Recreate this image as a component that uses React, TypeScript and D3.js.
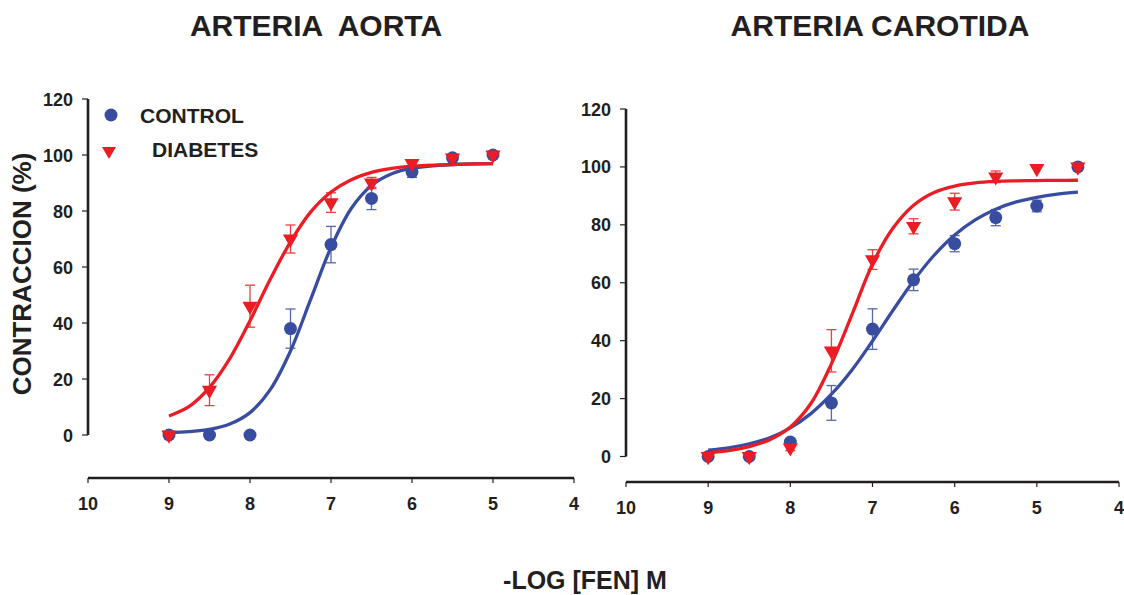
import React from "react";
import * as d3 from "d3";

// ---------- data ----------
const xTicks = [10, 9, 8, 7, 6, 5, 4];
const yTicks = [0, 20, 40, 60, 80, 100, 120];

const aortaConc = [9, 8.5, 8, 7.5, 7, 6.5, 6, 5.5, 5];
const aortaControl = [0, 0, 0, 38, 68, 84.5, 94, 99, 100];
const aortaControlErr = [0, 0, 0, 7, 6.5, 4, 2, 0, 0];
const aortaDiabetes = [0, 16, 46, 70, 83, 90, 97, 99, 100];
const aortaDiabetesErr = [0, 5.5, 7.5, 5, 3.5, 2, 1, 0.8, 0];

const aortaFitX = [9, 8.75, 8.5, 8.25, 8, 7.75, 7.5, 7.25, 7, 6.75, 6.5, 6.25, 6, 5.5, 5];
const aortaControlFit = [0.8, 1.2, 2.0, 3.9, 8, 16.2, 30, 48.5, 67, 80.9, 89.1, 93.3, 95.3, 96.6, 96.9];
const aortaDiabetesFit = [6.8, 10.2, 17, 27.3, 40.8, 55.6, 69, 79.7, 86.8, 91.2, 93.8, 95.2, 96, 96.6, 96.9];

const carotidConc = [9, 8.5, 8, 7.5, 7, 6.5, 6, 5.5, 5, 4.5];
const carotidControl = [0, 0, 5, 18.5, 44, 61, 73.5, 82.5, 86.5, 100];
const carotidControlErr = [0, 0, 1, 6, 7, 3.7, 2.8, 2.8, 2, 0];
const carotidDiabetes = [0, 0, 3, 36.5, 68, 79.5, 88, 96.6, 99.5, 100];
const carotidDiabetesErr = [0, 0, 1, 7.3, 3.4, 2.6, 2.9, 2, 0, 0];

const carotidFitX = [9, 8.75, 8.5, 8.25, 8, 7.75, 7.5, 7.25, 7, 6.75, 6.5, 6.25, 6, 5.75, 5.5, 5.25, 5, 4.75, 4.5];
const carotidControlFit = [2.2, 3.0, 4.4, 6.5, 9.9, 14.8, 21.5, 29.9, 39.9, 50.5, 60.7, 69.5, 76.5, 81.7, 85.4, 87.9, 89.5, 90.6, 91.3];
const carotidDiabetesFit = [1.3, 2.0, 3.4, 5.8, 10.2, 18.3, 32, 49, 66.5, 78.9, 86.8, 91.2, 93.4, 94.5, 95, 95.2, 95.3, 95.35, 95.4];

const titles = ["ARTERIA  AORTA", "ARTERIA CAROTIDA"];
const legendLabels = ["CONTROL", "DIABETES"];
const yLabel = "CONTRACCION (%)";
const xLabel = "-LOG [FEN] M";

// ---------- styles ----------
const BLUE = "#394da0";
const RED = "#ec1c24";
const INK = "#231f20";
const FONT = "Liberation Sans, Arial, Helvetica, sans-serif";

const triPath = d3.symbol().type(d3.symbolTriangle).size(100)() as string;
const triPathSmall = d3.symbol().type(d3.symbolTriangle).size(85)() as string;

type PanelProps = {
  title: string;
  xRange: [number, number];
  yRange: [number, number];
  xAxisY: number;
  conc: number[];
  ctrl: number[];
  ctrlErr: number[];
  diab: number[];
  diabErr: number[];
  fitX: number[];
  ctrlFit: number[];
  diabFit: number[];
  titleX: number;
  legend?: boolean;
};

function Panel(p: PanelProps) {
  const x = d3.scaleLinear().domain([10, 4]).range(p.xRange);
  const y = d3.scaleLinear().domain([0, 120]).range(p.yRange);
  const line = d3
    .line<[number, number]>()
    .x((d) => x(d[0]))
    .y((d) => y(d[1]))
    .curve(d3.curveCatmullRom.alpha(0.5));
  const axisX0 = p.xRange[0];

  const errBars = (vals: number[], errs: number[], color: string, key: string) =>
    p.conc.map((c, i) =>
      errs[i] > 0 ? (
        <g key={key + i} stroke={color} strokeWidth={1.3} opacity={0.85}>
          <line x1={x(c)} x2={x(c)} y1={y(vals[i] - errs[i])} y2={y(vals[i] + errs[i])} />
          <line x1={x(c) - 5} x2={x(c) + 5} y1={y(vals[i] + errs[i])} y2={y(vals[i] + errs[i])} />
          <line x1={x(c) - 5} x2={x(c) + 5} y1={y(vals[i] - errs[i])} y2={y(vals[i] - errs[i])} />
        </g>
      ) : null
    );

  return (
    <g>
      <text
        x={p.titleX}
        y={36}
        textAnchor="middle"
        fontSize={30}
        fontWeight="bold"
        fill={INK}
        fontFamily={FONT}
        style={{ whiteSpace: "pre" }}
      >
        {p.title}
      </text>
      {/* y axis */}
      <line x1={axisX0} x2={axisX0} y1={y(120)} y2={y(0)} stroke={INK} strokeWidth={2.6} />
      {yTicks.map((t) => (
        <g key={"yt" + t}>
          <line x1={axisX0 - 6} x2={axisX0} y1={y(t)} y2={y(t)} stroke={INK} strokeWidth={1.2} />
          <text x={axisX0 - 15} y={y(t) + 6.5} textAnchor="end" fontSize={18} fontWeight="bold" fill={INK} fontFamily={FONT}>
            {t}
          </text>
        </g>
      ))}
      {/* x axis */}
      <line x1={x(10)} x2={x(4)} y1={p.xAxisY} y2={p.xAxisY} stroke={INK} strokeWidth={2.6} />
      {xTicks.map((t) => (
        <g key={"xt" + t}>
          <line x1={x(t)} x2={x(t)} y1={p.xAxisY} y2={p.xAxisY + 5} stroke={INK} strokeWidth={1.2} />
          <text x={x(t)} y={p.xAxisY + 32} textAnchor="middle" fontSize={18} fontWeight="bold" fill={INK} fontFamily={FONT}>
            {t}
          </text>
        </g>
      ))}
      {/* fitted curves */}
      <path d={line(p.fitX.map((v, i) => [v, p.ctrlFit[i]]) as any) || ""} fill="none" stroke={BLUE} strokeWidth={3.3} />
      <path d={line(p.fitX.map((v, i) => [v, p.diabFit[i]]) as any) || ""} fill="none" stroke={RED} strokeWidth={3.3} />
      {/* error bars */}
      {errBars(p.ctrl, p.ctrlErr, BLUE, "ce")}
      {errBars(p.diab, p.diabErr, RED, "de")}
      {/* markers */}
      {p.conc.map((c, i) => (
        <circle key={"c" + i} cx={x(c)} cy={y(p.ctrl[i])} r={6.5} fill={BLUE} />
      ))}
      {p.conc.map((c, i) => (
        <path key={"d" + i} d={triPath} transform={`translate(${x(c)},${y(p.diab[i])}) rotate(180)`} fill={RED} />
      ))}
      {p.legend && (
        <g fontFamily={FONT} fontWeight="bold" fontSize={21} fill={INK}>
          <circle cx={111} cy={115} r={6.5} fill={BLUE} />
          <text x={140} y={123}>{legendLabels[0]}</text>
          <path d={triPathSmall} transform="translate(109,151) rotate(180)" fill={RED} />
          <text x={152} y={157}>{legendLabels[1]}</text>
        </g>
      )}
    </g>
  );
}

export default function App() {
  return (
    <svg
      width={1124}
      height={595}
      viewBox="0 0 1124 595"
      style={{ position: "absolute", left: 0, top: 0, background: "#fff" }}
    >
      <rect width={1124} height={595} fill="#fff" />
      <Panel
        title={titles[0]}
        titleX={316}
        xRange={[88, 574]}
        yRange={[435, 99]}
        xAxisY={478}
        conc={aortaConc}
        ctrl={aortaControl}
        ctrlErr={aortaControlErr}
        diab={aortaDiabetes}
        diabErr={aortaDiabetesErr}
        fitX={aortaFitX}
        ctrlFit={aortaControlFit}
        diabFit={aortaDiabetesFit}
        legend
      />
      <Panel
        title={titles[1]}
        titleX={880}
        xRange={[626, 1119]}
        yRange={[456.5, 109]}
        xAxisY={482}
        conc={carotidConc}
        ctrl={carotidControl}
        ctrlErr={carotidControlErr}
        diab={carotidDiabetes}
        diabErr={carotidDiabetesErr}
        fitX={carotidFitX}
        ctrlFit={carotidControlFit}
        diabFit={carotidDiabetesFit}
      />
      <text
        transform="translate(31,274) rotate(-90)"
        textAnchor="middle"
        fontSize={26}
        fontWeight="bold"
        fill={INK}
        fontFamily={FONT}
      >
        {yLabel}
      </text>
      <text x={585} y={589} textAnchor="middle" fontSize={25} fontWeight="bold" fill={INK} fontFamily={FONT}>
        {xLabel}
      </text>
    </svg>
  );
}
